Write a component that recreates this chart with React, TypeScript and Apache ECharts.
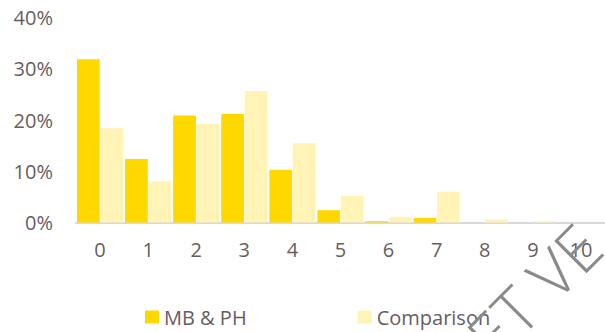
import React, { useEffect, useRef } from "react";
import * as echarts from "echarts";

const categories = ["0", "1", "2", "3", "4", "5", "6", "7", "8", "9", "10"];
const mbPh = [31.9, 12.4, 20.9, 21.2, 10.3, 2.4, 0.25, 0.9, 0, 0, 0];
const comparison = [18.4, 8.0, 19.3, 25.7, 15.5, 5.2, 1.1, 6.0, 0.6, 0.25, 0];
const seriesNames = ["MB & PH", "Comparison"];
const yTicks = [0, 10, 20, 30, 40];

const FONT = "'Open Sans', sans-serif";
const TEXT = "#675d60";

export default function App() {
  const ref = useRef<HTMLDivElement>(null);
  useEffect(() => {
    if (!ref.current) return;
    const chart = echarts.init(ref.current, undefined, { renderer: "svg" });
    chart.setOption({
      animation: false,
      backgroundColor: "#ffffff",
      textStyle: { fontFamily: FONT },
      grid: { left: 76, top: 17.7, width: 537, height: 204.8 },
      legend: {
        data: seriesNames,
        left: 140,
        top: 302,
        itemWidth: 14,
        itemHeight: 13,
        itemGap: 111,
        icon: "rect",
        textStyle: { color: TEXT, fontSize: 20, fontFamily: FONT },
      },
      xAxis: {
        type: "category",
        data: categories,
        axisLine: { show: true, lineStyle: { color: "#d9d9d9", width: 2 } },
        axisTick: { show: false },
        axisLabel: { color: TEXT, fontSize: 20, margin: 17, fontFamily: FONT },
      },
      yAxis: {
        type: "value",
        min: yTicks[0],
        max: yTicks[yTicks.length - 1],
        interval: 10,
        splitLine: { show: false },
        axisLine: { show: false },
        axisTick: { show: false },
        axisLabel: {
          color: TEXT,
          fontSize: 20,
          margin: 23,
          fontFamily: FONT,
          formatter: (v: number) => v + "%",
        },
      },
      series: [
        {
          name: seriesNames[0],
          type: "bar",
          data: mbPh,
          itemStyle: { color: "#ffd800" },
          barCategoryGap: "4%",
          barGap: "3%",
        },
        {
          name: seriesNames[1],
          type: "bar",
          data: comparison,
          itemStyle: { color: "#fff3b6" },
        },
      ],
      graphic: [
        {
          type: "text",
          x: 478,
          y: 347,
          rotation: Math.PI / 4,
          silent: true,
          z: 100,
          style: {
            text: "ET VE",
            fontSize: 64,
            fontWeight: 300,
            fontFamily: FONT,
            fill: "#8a8a8a",
            textAlign: "left",
            textVerticalAlign: "middle",
          },
        },
      ],
    });
    return () => chart.dispose();
  }, []);
  return (
    <div
      ref={ref}
      style={{ position: "fixed", left: 0, top: 0, width: 605, height: 332 }}
    />
  );
}
